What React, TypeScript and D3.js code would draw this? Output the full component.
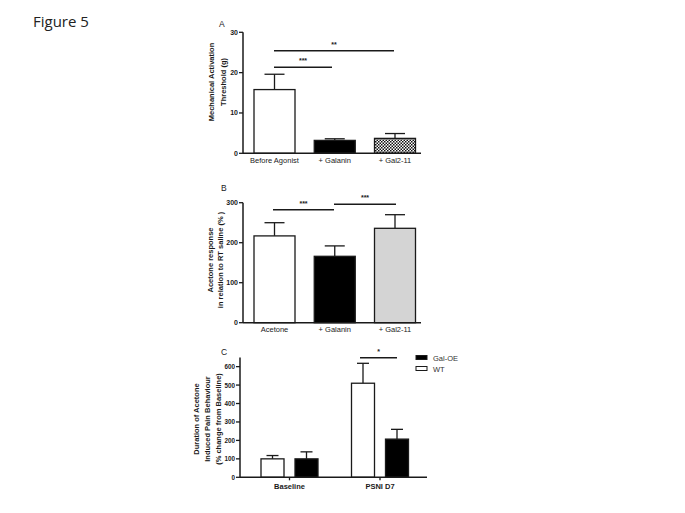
import React from 'react';
import * as d3 from 'd3';

// Panel A
const catsA = ['Before Agonist', '+ Galanin', '+ Gal2-11'];
const meanA = [15.8, 3.2, 3.7];
const semA = [3.8, 0.4, 1.2];
const ticksA = [0, 10, 20, 30];

// Panel B
const catsB = ['Acetone', '+ Galanin', '+ Gal2-11'];
const meanB = [217, 166, 236];
const semB = [33, 26, 34];
const ticksB = [0, 100, 200, 300];

// Panel C
const groupsC = ['Baseline', 'PSNI D7'];
const seriesC = ['WT', 'Gal-OE'];
const wtC = [100, 510];
const wtSemC = [18, 108];
const oeC = [100, 207];
const oeSemC = [38, 53];
const ticksC = [0, 100, 200, 300, 400, 500, 600];

const FONT = '"Liberation Sans", Arial, sans-serif';
const INK = '#1a1a1a';

type AxisProps = {
  x0: number;
  x1: number;
  y: d3.ScaleLinear<number, number>;
  ticks: number[];
  fs?: number;
};

function YAxis({ x0, x1, y, ticks, fs = 7 }: AxisProps) {
  const top = y(y.domain()[1]);
  const base = y(0);
  return (
    <g>
      <line x1={x0} x2={x0} y1={top} y2={base} stroke={INK} strokeWidth={1.5} />
      <line x1={x0} x2={x1} y1={base} y2={base} stroke={INK} strokeWidth={1.5} />
      {ticks.map((t) => (
        <g key={t}>
          <line x1={x0 - 4} x2={x0} y1={y(t)} y2={y(t)} stroke={INK} strokeWidth={1.3} />
          <text x={x0 - 5} y={y(t) + 2.5} fontSize={fs} fontWeight="bold" textAnchor="end" fill={INK}>
            {t}
          </text>
        </g>
      ))}
    </g>
  );
}

function ErrBar({ cx, yTop, yVal, w }: { cx: number; yTop: number; yVal: number; w: number }) {
  return (
    <g stroke={INK} strokeWidth={1.3}>
      <line x1={cx} x2={cx} y1={yTop} y2={yVal} />
      <line x1={cx - w / 2} x2={cx + w / 2} y1={yTop} y2={yTop} />
    </g>
  );
}

function Sig({ xa, xb, yy, label }: { xa: number; xb: number; yy: number; label: string }) {
  return (
    <g>
      <line x1={xa} x2={xb} y1={yy} y2={yy} stroke={INK} strokeWidth={1.5} />
      <text x={(xa + xb) / 2} y={yy - 4} fontSize={7} fontWeight="bold" textAnchor="middle" fill={INK}>
        {label}
      </text>
    </g>
  );
}

function YLabel({ cx, cy, lines }: { cx: number[]; cy: number; lines: string[] }) {
  return (
    <g>
      {lines.map((l, i) => (
        <text
          key={l}
          transform={`translate(${cx[i]},${cy}) rotate(-90)`}
          fontSize={7.5}
          fontWeight="bold"
          textAnchor="middle"
          fill={INK}
        >
          {l}
        </text>
      ))}
    </g>
  );
}

export default function App() {
  // Panel A scales
  const yA = d3.scaleLinear().domain([0, 30]).range([153.3, 32.3]);
  const xA = d3.scalePoint<string>().domain(catsA).range([274.5, 395]);
  const fillA = ['#ffffff', '#000000', 'url(#checker)'];

  // Panel B scales
  const yB = d3.scaleLinear().domain([0, 300]).range([322.7, 202.7]);
  const xB = d3.scalePoint<string>().domain(catsB).range([274.5, 395]);
  const fillB = ['#ffffff', '#000000', '#d4d4d4'];

  // Panel C scales
  const yC = d3.scaleLinear().domain([0, 650]).range([477.3, 357.4]);
  const xC0 = d3.scalePoint<string>().domain(groupsC).range([289.5, 380]);
  const xC1 = d3.scalePoint<string>().domain(seriesC).range([-17, 17]);
  const colorC = d3.scaleOrdinal<string, string>().domain(seriesC).range(['#ffffff', '#000000']);
  const valsC: Record<string, number[]> = { WT: wtC, 'Gal-OE': oeC };
  const semsC: Record<string, number[]> = { WT: wtSemC, 'Gal-OE': oeSemC };

  const bw = 41;
  const bwC = 23;

  return (
    <svg width={685} height={513} style={{ position: 'absolute', left: 0, top: 0, fontFamily: FONT, background: '#fff' }}>
      <defs>
        <pattern id="checker" width={3} height={3} patternUnits="userSpaceOnUse">
          <rect width={3} height={3} fill="#ffffff" />
          <rect width={1.5} height={1.5} fill="#111" />
          <rect x={1.5} y={1.5} width={1.5} height={1.5} fill="#111" />
        </pattern>
      </defs>
      <rect width={685} height={513} fill="#fff" />
      <text x={33} y={27} fontSize={15} fontFamily='"Open Sans", sans-serif' fill="#222">
        Figure 5
      </text>

      {/* Panel A */}
      <text x={219} y={27} fontSize={8.5} fill={INK}>A</text>
      <YLabel cx={[214, 226]} cy={82} lines={['Mechanical  Activation', 'Threshold (g)']} />
      {catsA.map((c, i) => (
        <g key={c}>
          <ErrBar cx={xA(c)!} yTop={yA(meanA[i] + semA[i])} yVal={yA(meanA[i])} w={20} />
          <rect
            x={xA(c)! - bw / 2}
            y={yA(meanA[i])}
            width={bw}
            height={yA(0) - yA(meanA[i])}
            fill={fillA[i]}
            stroke={INK}
            strokeWidth={1.3}
          />
          <text x={xA(c)!} y={163} fontSize={7.5} textAnchor="middle" fill={INK}>{c}</text>
        </g>
      ))}
      <YAxis x0={243} x1={421} y={yA} ticks={ticksA} />
      <Sig xa={274} xb={332} yy={67.3} label="***" />
      <Sig xa={274} xb={394} yy={50.7} label="**" />

      {/* Panel B */}
      <text x={221} y={191} fontSize={8.5} fill={INK}>B</text>
      <YLabel cx={[213, 223]} cy={260} lines={['Acetone response', 'in relation to RT saline (% )']} />
      {catsB.map((c, i) => (
        <g key={c}>
          <ErrBar cx={xB(c)!} yTop={yB(meanB[i] + semB[i])} yVal={yB(meanB[i])} w={20} />
          <rect
            x={xB(c)! - bw / 2}
            y={yB(meanB[i])}
            width={bw}
            height={yB(0) - yB(meanB[i])}
            fill={fillB[i]}
            stroke={INK}
            strokeWidth={1.3}
          />
          <text x={xB(c)!} y={332} fontSize={7.5} textAnchor="middle" fill={INK}>{c}</text>
        </g>
      ))}
      <YAxis x0={243} x1={421} y={yB} ticks={ticksB} />
      <Sig xa={273} xb={334} yy={209.7} label="***" />
      <Sig xa={334} xb={396} yy={204.3} label="***" />

      {/* Panel C */}
      <text x={221} y={355} fontSize={8.5} fill={INK}>C</text>
      <YLabel cx={[199, 210, 221]} cy={419} lines={['Duration of Acetone', 'Induced Pain Behaviour', '(% change from Baseline)']} />
      {groupsC.map((g, gi) => (
        <g key={g}>
          {seriesC.map((s) => {
            const cx = xC0(g)! + xC1(s)!;
            const v = valsC[s][gi];
            return (
              <g key={s}>
                <ErrBar cx={cx} yTop={yC(v + semsC[s][gi])} yVal={yC(v)} w={12} />
                <rect
                  x={cx - bwC / 2}
                  y={yC(v)}
                  width={bwC}
                  height={yC(0) - yC(v)}
                  fill={colorC(s)}
                  stroke={INK}
                  strokeWidth={1.3}
                />
              </g>
            );
          })}
          <line x1={xC0(g)!} x2={xC0(g)!} y1={yC(0)} y2={yC(0) + 3} stroke={INK} strokeWidth={1.3} />
          <text x={xC0(g)!} y={489} fontSize={7.5} fontWeight="bold" textAnchor="middle" fill={INK}>{g}</text>
        </g>
      ))}
      <YAxis x0={240} x1={427} y={yC} ticks={ticksC} fs={6.3} />
      <Sig xa={360} xb={397} yy={357.7} label="*" />
      {/* Legend */}
      {['Gal-OE', 'WT'].map((s, i) => (
        <g key={s}>
          <rect x={416} y={355.5 + i * 11} width={11} height={4} fill={colorC(s)} stroke={INK} strokeWidth={1} />
          <text x={433} y={360.5 + i * 11} fontSize={7.5} fill="#333">{s}</text>
        </g>
      ))}
    </svg>
  );
}
